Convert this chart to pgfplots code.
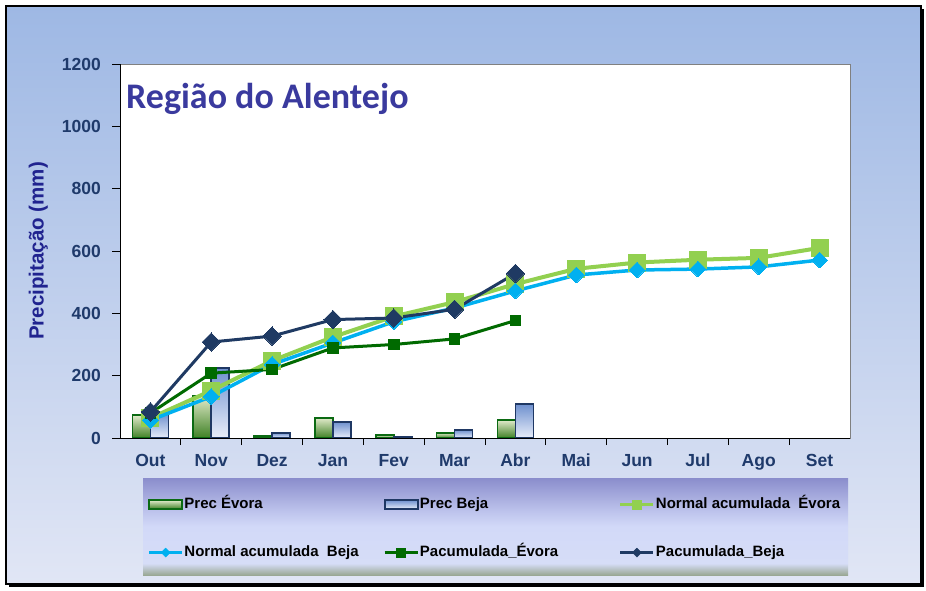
\documentclass[border=0pt]{standalone}
\usepackage{fontspec}
\setmainfont{Liberation Sans}
\newfontfamily\titlefont{Carlito}
\usepackage{pgfplots}
\pgfplotsset{compat=1.18}

\definecolor{bgT}{HTML}{9EB8E4}
\definecolor{bgB}{HTML}{E1E6F5}
\definecolor{lgA}{HTML}{9AA894}
\definecolor{lgB}{HTML}{D6DDF7}
\definecolor{lgC}{HTML}{D2D9F8}
\definecolor{lgD}{HTML}{BDC3EC}
\definecolor{lgE}{HTML}{8A8DCC}
\definecolor{evD}{HTML}{0B6A12}
\definecolor{evT}{HTML}{E2EBCC}
\definecolor{evB}{HTML}{3F8124}
\definecolor{bjD}{HTML}{1F3864}
\definecolor{bjT}{HTML}{6E90CE}
\definecolor{bjB}{HTML}{E9EEFA}
\definecolor{normEv}{HTML}{92D050}
\definecolor{normBj}{HTML}{00B0F0}
\definecolor{pacEv}{HTML}{006A00}
\definecolor{pacBj}{HTML}{1F3A63}
\definecolor{tickc}{HTML}{1F3A6B}
\definecolor{ylabc}{HTML}{20238F}
\definecolor{titlec}{HTML}{3A3A9E}

% legend box: path spans 25bp..75bp
\pgfdeclareverticalshading{legshade}{100bp}{color(0bp)=(lgA); color(25bp)=(lgA);
  color(31bp)=(lgB); color(50bp)=(lgC); color(58bp)=(lgD); color(75bp)=(lgE); color(100bp)=(lgE)}

\pgfplotsset{
  barE/.style={ybar, bar width=18pt, bar shift=-9pt, draw=evD, line width=1.8pt,
    top color=evT, bottom color=evB, forget plot},
  barB/.style={ybar, bar width=18pt, bar shift=9pt, draw=bjD, line width=1.8pt,
    top color=bjT, bottom color=bjB, forget plot},
}

\begin{document}
\begin{tikzpicture}[x=1pt,y=1pt]
\path[use as bounding box, fill=white] (0,0) rectangle (926,590);
% frame with shadow
\fill[black] (9,3) rectangle (924,581);
\shade[top color=bgT, bottom color=bgB] (6,6) rectangle (921,584);
\draw[black, line width=1.4pt] (6,6) rectangle (921,584);
% legend background
\shade[shading=legshade] (143,15) rectangle (848,112);

\begin{axis}[
  at={(120pt,152pt)}, anchor=south west,
  scale only axis, width=730pt, height=374pt,
  xmin=-0.5, xmax=11.5, ymin=0, ymax=1200,
  axis background/.style={fill=white},
  axis line style={draw=gray, line width=0.8pt},
  xtick={0,...,11},
  xticklabels={Out,Nov,Dez,Jan,Fev,Mar,Abr,Mai,Jun,Jul,Ago,Set},
  minor xtick={0.5,1.5,...,10.5},
  ytick={0,200,...,1200},
  tick align=outside, xtick pos=bottom, ytick pos=left,
  major tick length=8pt, minor tick length=7pt,
  major x tick style={draw=none},
  minor x tick style={black, line width=0.8pt},
  major y tick style={black, line width=0.8pt},
  /pgf/number format/assume math mode=true,
  /pgf/number format/1000 sep={},
  xticklabel style={font=\fontsize{17.5}{20}\selectfont\bfseries, text=tickc, inner sep=0pt, yshift=-8pt},
  yticklabel style={font=\fontsize{17.5}{20}\selectfont\bfseries, text=tickc, inner sep=0pt, xshift=-11pt},
  ylabel={Precipitação (mm)},
  ylabel style={at={(axis description cs:-0.112,0.5)}, anchor=center,
    font=\fontsize{20.5}{24}\selectfont\bfseries, text=ylabc},
  legend columns=3,
  legend cell align=left,
  legend style={at={(axis description cs:0.038,-0.156)}, anchor=north west,
    draw=none, fill=none, inner sep=0pt, row sep=32pt,
    font=\fontsize{15}{18}\selectfont\bfseries,
    nodes={inner sep=1pt, text height=11pt, text depth=3pt}},
]
% legend images
\addlegendimage{legend image code/.code={\draw[draw=evD, line width=1.8pt, top color=evT, bottom color=evB] (0pt,-4.5pt) rectangle (33pt,4.5pt);}}
\addlegendentry{\makebox[198pt][l]{Prec Évora}}
\addlegendimage{legend image code/.code={\draw[draw=bjD, line width=1.8pt, top color=bjT, bottom color=bjB] (0pt,-4.5pt) rectangle (33pt,4.5pt);}}
\addlegendentry{\makebox[198pt][l]{Prec Beja}}
\addlegendimage{legend image code/.code={\draw[normEv, line width=3pt] (0pt,0pt) -- (33pt,0pt); \fill[normEv] (12pt,-4.5pt) rectangle (21pt,4.5pt);}}
\addlegendentry{Normal acumulada~ Évora}
\addlegendimage{legend image code/.code={\draw[normBj, line width=2.5pt] (0pt,0pt) -- (33pt,0pt); \fill[normBj] (16.5pt,-4.5pt) -- (21pt,0pt) -- (16.5pt,4.5pt) -- (12pt,0pt) -- cycle;}}
\addlegendentry{\makebox[198pt][l]{Normal acumulada~ Beja}}
\addlegendimage{legend image code/.code={\draw[pacEv, line width=2.5pt] (0pt,0pt) -- (33pt,0pt); \fill[pacEv] (12pt,-4.5pt) rectangle (21pt,4.5pt);}}
\addlegendentry{\makebox[198pt][l]{Pacumulada\_Évora}}
\addlegendimage{legend image code/.code={\draw[pacBj, line width=2.5pt] (0pt,0pt) -- (33pt,0pt); \fill[pacBj] (16.5pt,-4.5pt) -- (21pt,0pt) -- (16.5pt,4.5pt) -- (12pt,0pt) -- cycle;}}
\addlegendentry{Pacumulada\_Beja}

% Prec Evora (one plot per bar, so each has its own gradient)
\addplot[barE] coordinates {(0,74)};
\addplot[barE] coordinates {(1,136)};
\addplot[barE] coordinates {(2,7)};
\addplot[barE] coordinates {(3,65)};
\addplot[barE] coordinates {(4,10)};
\addplot[barE] coordinates {(5,17)};
\addplot[barE] coordinates {(6,58)};
% Prec Beja
\addplot[barB] coordinates {(0,78)};
\addplot[barB] coordinates {(1,224)};
\addplot[barB] coordinates {(2,17)};
\addplot[barB] coordinates {(3,52)};
\addplot[barB] coordinates {(4,4)};
\addplot[barB] coordinates {(5,26)};
\addplot[barB] coordinates {(6,109)};

% Normal acumulada Evora
\addplot[forget plot, normEv, line width=4pt, mark=square*, mark size=8.5pt, mark options={solid, line width=0pt}]
  coordinates {(0,64) (1,152) (2,248) (3,324) (4,390) (5,436) (6,494) (7,543) (8,563) (9,572) (10,578) (11,610)};
% Normal acumulada Beja
\addplot[forget plot, normBj, line width=3.5pt, mark=square*, mark size=5.6pt, mark options={solid, rotate=45, line width=0pt}]
  coordinates {(0,57) (1,133) (2,236) (3,305) (4,373) (5,417) (6,472) (7,523) (8,539) (9,542) (10,549) (11,571)};
% Pacumulada Evora
\addplot[forget plot, pacEv, line width=3pt, mark=square*, mark size=5.4pt, mark options={solid, line width=0pt}]
  coordinates {(0,80) (1,208) (2,220) (3,289) (4,300) (5,318) (6,377)};
% Pacumulada Beja
\addplot[forget plot, pacBj, line width=3pt, mark=square*, mark size=6.5pt, mark options={solid, rotate=45, line width=0pt}]
  coordinates {(0,84) (1,308) (2,327) (3,380) (4,385) (5,413) (6,528)};

\draw[black, line width=0.9pt] (rel axis cs:0,1) -- (rel axis cs:0,0) -- (rel axis cs:1,0);
\end{axis}

\node[anchor=base west, inner sep=0pt, text=titlec, font=\titlefont\fontsize{36}{40}\selectfont\bfseries]
  at (126,481) {Região do Alentejo};
\end{tikzpicture}
\end{document}
